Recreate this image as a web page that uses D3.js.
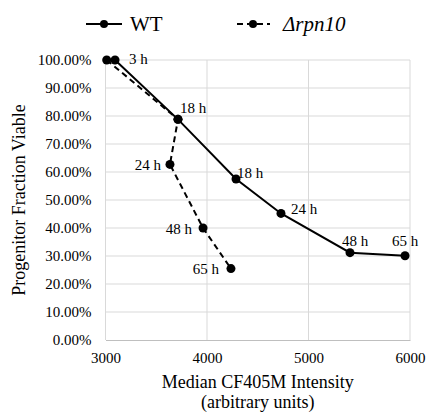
<!DOCTYPE html>
<html>
<head>
<meta charset="utf-8">
<script src="https://cdn.jsdelivr.net/npm/d3@7"></script>
</head>
<body style="margin:0">
<script>
// data
var wtX = [3094, 3714, 4286, 4729, 5409, 5951];
var wtY = [1.00, 0.788, 0.575, 0.452, 0.312, 0.301];
var wtLabels = ["3 h", "18 h", "18 h", "24 h", "48 h", "65 h"];

var rpnX = [3012, 3714, 3635, 3961, 4236];
var rpnY = [1.00, 0.788, 0.627, 0.40, 0.255];
var rpnLabels = ["", "", "24 h", "48 h", "65 h"];

var xTicks = [3000, 4000, 5000, 6000];
var yTicks = [0, 0.1, 0.2, 0.3, 0.4, 0.5, 0.6, 0.7, 0.8, 0.9, 1.0];

var width = 426, height = 412;
var margin = {top: 60, right: 16, bottom: 72, left: 105.5};
var iw = width - margin.left - margin.right,
    ih = height - margin.top - margin.bottom;

var svg = d3.select("body").append("svg")
    .attr("width", width)
    .attr("height", height);

var g = svg.append("g")
    .attr("transform", "translate(" + margin.left + "," + margin.top + ")");

var x = d3.scaleLinear().domain([3000, 6000]).range([0, iw]);
var y = d3.scaleLinear().domain([0, 1]).range([ih, 0]);

// gridlines
g.append("g").selectAll("line.h")
    .data(yTicks.slice(1))
    .enter().append("line")
    .attr("x1", 0).attr("x2", iw)
    .attr("y1", function(d){ return y(d); })
    .attr("y2", function(d){ return y(d); })
    .attr("stroke", "#d9d9d9").attr("stroke-width", 1);

g.append("g").selectAll("line.v")
    .data(xTicks)
    .enter().append("line")
    .attr("y1", 0).attr("y2", ih)
    .attr("x1", function(d){ return x(d); })
    .attr("x2", function(d){ return x(d); })
    .attr("stroke", "#d9d9d9").attr("stroke-width", 1);

// axes
var xAxis = g.append("g")
    .attr("transform", "translate(0," + ih + ")")
    .call(d3.axisBottom(x).tickValues(xTicks).tickSize(0).tickPadding(12).tickFormat(d3.format("d")));
xAxis.select(".domain").attr("stroke", "#bfbfbf");
xAxis.selectAll("text").attr("fill", "#000").attr("font-size", 15);

var yAxis = g.append("g")
    .call(d3.axisLeft(y).tickValues(yTicks).tickSize(0).tickPadding(14).tickFormat(d3.format(".2%")));
yAxis.select(".domain").remove();
yAxis.selectAll("text").attr("fill", "#000").attr("font-size", 15);

// lines
var line = d3.line()
    .x(function(d){ return x(d[0]); })
    .y(function(d){ return y(d[1]); });

var wt = d3.zip(wtX, wtY);
var rpn = d3.zip(rpnX, rpnY);

g.append("path").datum(rpn)
    .attr("d", line)
    .attr("fill", "none").attr("stroke", "#000")
    .attr("stroke-width", 2).attr("stroke-dasharray", "6,4");

g.append("path").datum(wt)
    .attr("d", line)
    .attr("fill", "none").attr("stroke", "#000")
    .attr("stroke-width", 2);

function dots(data){
    g.append("g").selectAll("circle")
        .data(data).enter().append("circle")
        .attr("cx", function(d){ return x(d[0]); })
        .attr("cy", function(d){ return y(d[1]); })
        .attr("r", 4.5).attr("fill", "#000");
}
dots(rpn);
dots(wt);

// data labels, placed by hand like in excel
var wtOff = [[14, 4, "start"], [2, -6, "start"], [1, -1, "start"], [10, 1, "start"], [5, -7, "middle"], [0, -10, "middle"]];
var rpnOff = [null, null, [-9, 6, "end"], [-11, 6, "end"], [-12, 5, "end"]];

function labels(data, txt, off){
    data.forEach(function(d, i){
        if(!txt[i]) return;
        g.append("text")
            .attr("x", x(d[0]) + off[i][0])
            .attr("y", y(d[1]) + off[i][1])
            .attr("text-anchor", off[i][2])
            .attr("font-size", 15)
            .text(txt[i]);
    });
}
labels(wt, wtLabels, wtOff);
labels(rpn, rpnLabels, rpnOff);

// axis titles
svg.append("text")
    .attr("x", margin.left + iw / 2).attr("y", 388)
    .attr("text-anchor", "middle").attr("font-size", 18)
    .text("Median CF405M Intensity");
svg.append("text")
    .attr("x", margin.left + iw / 2).attr("y", 408)
    .attr("text-anchor", "middle").attr("font-size", 18)
    .text("(arbitrary units)");

svg.append("text")
    .attr("transform", "translate(25," + (margin.top + ih / 2) + ") rotate(-90)")
    .attr("text-anchor", "middle").attr("font-size", 18)
    .text("Progenitor Fraction Viable");

// legend
var leg = svg.append("g");
leg.append("line").attr("x1", 86).attr("x2", 122).attr("y1", 24).attr("y2", 24)
    .attr("stroke", "#000").attr("stroke-width", 2);
leg.append("circle").attr("cx", 104).attr("cy", 24).attr("r", 4).attr("fill", "#000");
leg.append("text").attr("x", 130).attr("y", 31).attr("font-size", 21).text("WT");

leg.append("line").attr("x1", 237).attr("x2", 270).attr("y1", 24).attr("y2", 24)
    .attr("stroke", "#000").attr("stroke-width", 2).attr("stroke-dasharray", "6,4");
leg.append("circle").attr("cx", 253).attr("cy", 24).attr("r", 4).attr("fill", "#000");
leg.append("text").attr("x", 283).attr("y", 31).attr("font-size", 21)
    .attr("font-style", "italic").text("\u0394rpn10");

// one font for every text, set last so nothing overrides it
svg.selectAll("g").attr("font-family", null);
svg.selectAll("text").attr("font-family", "Liberation Serif");
</script>
</body>
</html>
